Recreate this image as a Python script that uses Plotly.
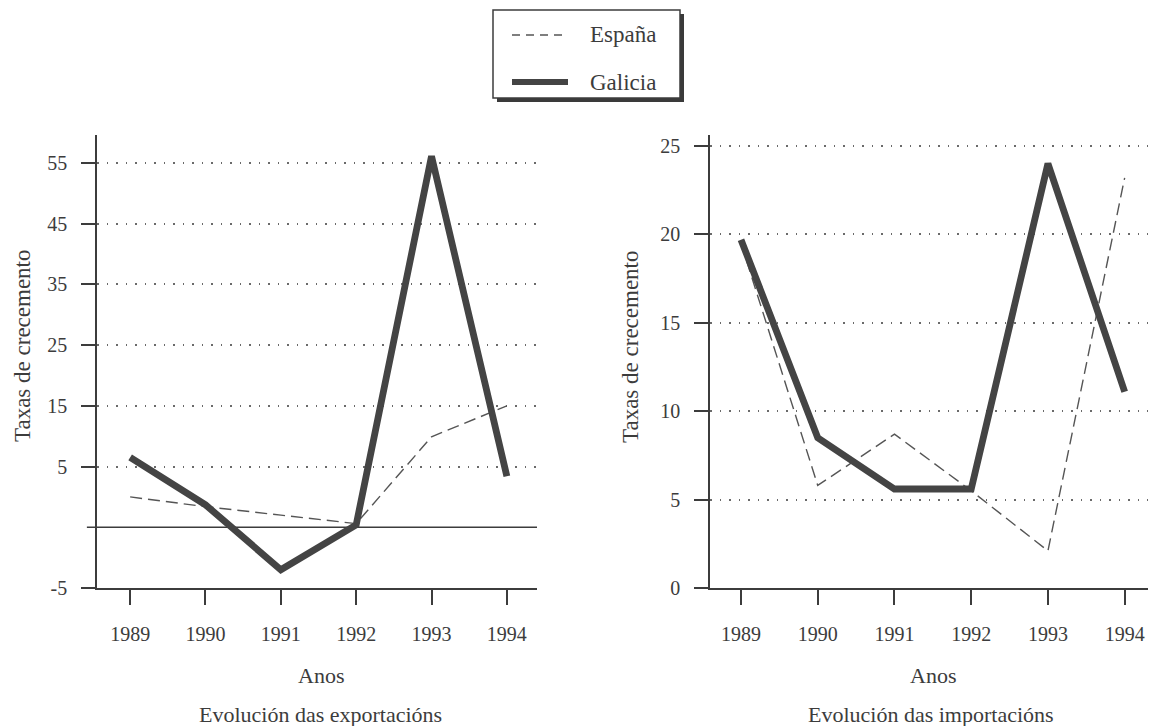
import plotly.graph_objects as go

# ---------------- data ----------------
years = [1989, 1990, 1991, 1992, 1993, 1994]

# Evolución das exportacións (values as drawn on the chart's linear scale)
exp_galicia = [6.5, -1.3, -12.0, -4.6, 56.1, 3.4]
exp_espana = [0.0, -1.6, -3.0, -4.4, 9.9, 15.0]
exp_tickvals = [-15, 5, 15, 25, 35, 45, 55]
exp_ticktext = ["-5", "5", "15", "25", "35", "45", "55"]
exp_baseline = -5

# Evolución das importacións
imp_galicia = [19.7, 8.5, 5.6, 5.6, 24.0, 11.1]
imp_espana = [19.5, 5.8, 8.7, 5.5, 2.1, 23.2]
imp_tickvals = [0, 5, 10, 15, 20, 25]
imp_ticktext = ["0", "5", "10", "15", "20", "25"]

series_names = ["España", "Galicia"]
y_title = "Taxas de crecemento"
x_title = "Anos"
subtitles = ["Evolución das exportacións", "Evolución das importacións"]

# ---------------- styling ----------------
W, H = 1150, 726
FONT = "Liberation Serif"
INK = "#3c3c3c"
GAL_COLOR = "#444444"
ESP_COLOR = "#555555"


def px(x):
    return x / W


def py(y):
    return 1 - y / H


fig = go.Figure()

fig.add_trace(go.Scatter(x=years, y=exp_espana, mode="lines", name=series_names[0],
                         line=dict(color=ESP_COLOR, width=1.4, dash="12px,6px"),
                         xaxis="x", yaxis="y", showlegend=False))
fig.add_trace(go.Scatter(x=years, y=exp_galicia, mode="lines", name=series_names[1],
                         line=dict(color=GAL_COLOR, width=6.8),
                         xaxis="x", yaxis="y", showlegend=False))
fig.add_trace(go.Scatter(x=years, y=imp_espana, mode="lines", name=series_names[0],
                         line=dict(color=ESP_COLOR, width=1.4, dash="12px,6px"),
                         xaxis="x2", yaxis="y2", showlegend=False))
fig.add_trace(go.Scatter(x=years, y=imp_galicia, mode="lines", name=series_names[1],
                         line=dict(color=GAL_COLOR, width=6.8),
                         xaxis="x2", yaxis="y2", showlegend=False))

common_x = dict(tickvals=years, ticks="outside", ticklen=15, tickwidth=1.5, tickcolor=INK,
                showline=True, linecolor=INK, linewidth=1.5, showgrid=False, zeroline=False,
                tickfont=dict(family=FONT, size=20, color=INK), automargin=False,
                ticklabelstandoff=12)
common_y = dict(ticks="outside", ticklen=14, tickwidth=1.5, tickcolor=INK,
                showline=True, linecolor=INK, linewidth=1.5, showgrid=True,
                gridcolor="#6a6a6a", gridwidth=1.5, griddash="1.5px,8px", zeroline=False,
                tickfont=dict(family=FONT, size=20, color=INK), automargin=False,
                ticklabelstandoff=10)

y_bot, y_top = py(588), py(135)

fig.update_layout(
    width=W, height=H, autosize=False,
    margin=dict(l=0, r=0, t=0, b=0),
    paper_bgcolor="white", plot_bgcolor="white",
    template="none", showlegend=False,
    font=dict(family=FONT, color=INK),
    xaxis=dict(domain=[px(97), px(537)], range=[1988.56, 1994.4], anchor="y", **common_x),
    yaxis=dict(domain=[y_bot, y_top], range=[-15, 59.6], anchor="x",
               tickvals=exp_tickvals, ticktext=exp_ticktext, **common_y),
    xaxis2=dict(domain=[px(710), px(1148)], range=[1988.596, 1994.304], anchor="y2", **common_x),
    yaxis2=dict(domain=[y_bot, y_top], range=[0, 25.62], anchor="x2",
                tickvals=imp_tickvals, ticktext=imp_ticktext, **common_y),
)

shapes = []
# solid baseline in export chart
shapes.append(dict(type="line", xref="x domain", yref="y", x0=-0.023, x1=1,
                   y0=exp_baseline, y1=exp_baseline, line=dict(color=INK, width=1.5), layer="below"))

# custom legend box with drop shadow
lx0, lx1, ly0, ly1 = 493, 680, 10, 98
shapes.append(dict(type="rect", xref="paper", yref="paper",
                   x0=px(lx0 + 4), x1=px(lx1 + 4), y0=py(ly1 + 4), y1=py(ly0 + 4),
                   fillcolor="#3a3a3a", line=dict(width=0)))
shapes.append(dict(type="rect", xref="paper", yref="paper",
                   x0=px(lx0), x1=px(lx1), y0=py(ly1), y1=py(ly0),
                   fillcolor="white", line=dict(color=INK, width=1.5)))
shapes.append(dict(type="line", xref="paper", yref="paper", x0=px(512), x1=px(568),
                   y0=py(35), y1=py(35), line=dict(color=ESP_COLOR, width=1.4, dash="8px,6px")))
shapes.append(dict(type="line", xref="paper", yref="paper", x0=px(512), x1=px(568),
                   y0=py(82), y1=py(82), line=dict(color=GAL_COLOR, width=6)))

annotations = []
for name, yy in zip(series_names, [35, 82]):
    annotations.append(dict(text=name, xref="paper", yref="paper", x=px(588), y=py(yy),
                            xanchor="left", yanchor="middle", showarrow=False,
                            font=dict(family=FONT, size=23, color=INK)))

for xc, xa, sub, xs in [(22, 321, subtitles[0], 320), (630, 933, subtitles[1], 931)]:
    annotations.append(dict(text=y_title, xref="paper", yref="paper", x=px(xc), y=py(346),
                            xanchor="center", yanchor="middle", textangle=-90, showarrow=False,
                            font=dict(family=FONT, size=23, color=INK)))
    annotations.append(dict(text=x_title, xref="paper", yref="paper", x=px(xa), y=py(675),
                            xanchor="center", yanchor="middle", showarrow=False,
                            font=dict(family=FONT, size=22, color=INK)))
    annotations.append(dict(text=sub, xref="paper", yref="paper", x=px(xs), y=py(714),
                            xanchor="center", yanchor="middle", showarrow=False,
                            font=dict(family=FONT, size=22, color=INK)))

fig.update_layout(shapes=shapes, annotations=annotations)

fig.write_html("out.html", config={"displayModeBar": False},
               post_script="document.body.style.margin='0';document.body.style.overflow='hidden';")
